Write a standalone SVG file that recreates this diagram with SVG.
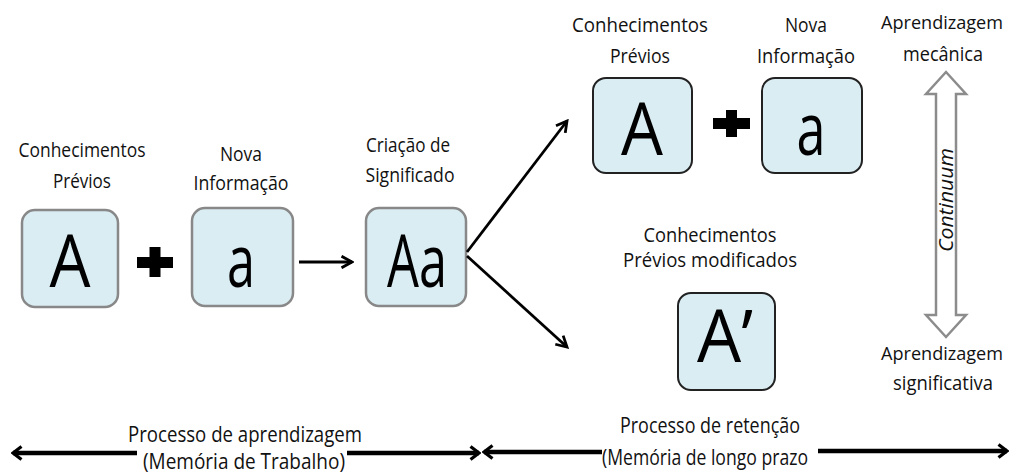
<svg xmlns="http://www.w3.org/2000/svg" width="1013" height="474" viewBox="0 0 1013 474">
<style>
.lbl{font-family:"Open Sans","Liberation Sans",sans-serif;font-size:20px;fill:#111;text-anchor:middle}
.sm{font-size:19px}
.big{font-family:"Open Sans","Liberation Sans",sans-serif;font-size:73px;fill:#000;text-anchor:middle}
.bot{font-family:"Open Sans","Liberation Sans",sans-serif;font-size:21px;fill:#111;text-anchor:middle}
.boxg{fill:#daedf3;stroke:#888;stroke-width:2.5}
.boxd{fill:#daedf3;stroke:#222;stroke-width:2}
.con{stroke:#000;stroke-width:2.8;fill:none}
.thick{stroke:#000;stroke-width:4.5;fill:none}
</style>
<defs>
<marker id="chev" viewBox="0 0 12 12" refX="10" refY="6" markerWidth="14" markerHeight="14" markerUnits="userSpaceOnUse" orient="auto">
<path d="M1,1 L10,6 L1,11" fill="none" stroke="#000" stroke-width="2.4"/>
</marker>
<marker id="chevB" viewBox="0 0 12 16" refX="10" refY="8" markerWidth="12" markerHeight="16" markerUnits="userSpaceOnUse" orient="auto">
<path d="M1.5,1.5 L10,8 L1.5,14.5" fill="none" stroke="#000" stroke-width="3.2"/>
</marker>
</defs>

<g id="node-A1">
<text class="lbl" x="82" y="157" textLength="127" lengthAdjust="spacingAndGlyphs">Conhecimentos</text>
<text class="lbl" x="82" y="188" textLength="58" lengthAdjust="spacingAndGlyphs">Prévios</text>
<rect class="boxg" x="22" y="210" width="96" height="97" rx="13"/>
<text class="big" x="70" y="287" textLength="41" lengthAdjust="spacingAndGlyphs">A</text>
</g>
<g id="plus1"><path d="M137,257 H149.5 V247 H160.5 V257 H173 V268 H160.5 V277 H149.5 V268 H137 Z" fill="#000"/></g>
<g id="node-a1">
<text class="lbl" x="241" y="161" textLength="42" lengthAdjust="spacingAndGlyphs">Nova</text>
<text class="lbl" x="241" y="190" textLength="95" lengthAdjust="spacingAndGlyphs">Informação</text>
<rect class="boxg" x="192" y="208" width="101" height="98" rx="13"/>
<text class="big" x="241" y="287" textLength="28" lengthAdjust="spacingAndGlyphs">a</text>
</g>
<g id="node-Aa">
<text class="lbl" x="408" y="152" textLength="84" lengthAdjust="spacingAndGlyphs">Criação de</text>
<text class="lbl" x="410" y="182" textLength="89" lengthAdjust="spacingAndGlyphs">Significado</text>
<rect class="boxg" x="366" y="208" width="100" height="98" rx="13"/>
<text class="big" x="417" y="287" textLength="60" lengthAdjust="spacingAndGlyphs">Aa</text>
</g>
<g id="node-A2">
<text class="lbl" x="640" y="32" textLength="136" lengthAdjust="spacingAndGlyphs">Conhecimentos</text>
<text class="lbl" x="640" y="63" textLength="60" lengthAdjust="spacingAndGlyphs">Prévios</text>
<rect class="boxd" x="593" y="78" width="99" height="95" rx="13"/>
<text class="big" x="642" y="155" textLength="42" lengthAdjust="spacingAndGlyphs">A</text>
</g>
<g id="plus2"><path d="M713,118 H726 V110 H737 V118 H750 V129 H737 V137 H726 V129 H713 Z" fill="#000"/></g>
<g id="node-a2">
<text class="lbl" x="806" y="32" textLength="42" lengthAdjust="spacingAndGlyphs">Nova</text>
<text class="lbl" x="806" y="63" textLength="98" lengthAdjust="spacingAndGlyphs">Informação</text>
<rect class="boxd" x="762" y="78" width="100" height="95" rx="13"/>
<text class="big" x="811" y="155" textLength="29" lengthAdjust="spacingAndGlyphs">a</text>
</g>
<g id="node-A3">
<text class="lbl" x="710" y="242" textLength="133" lengthAdjust="spacingAndGlyphs">Conhecimentos</text>
<text class="lbl" x="710" y="267" textLength="174" lengthAdjust="spacingAndGlyphs">Prévios modificados</text>
<rect class="boxd" x="678" y="293" width="97" height="97" rx="13"/>
<text class="big" x="725" y="362" textLength="56" lengthAdjust="spacingAndGlyphs">A’</text>
</g>
<g id="continuum">
<text class="lbl sm" x="942" y="29" textLength="122" lengthAdjust="spacingAndGlyphs">Aprendizagem</text>
<text class="lbl" x="943" y="61" textLength="80" lengthAdjust="spacingAndGlyphs">mecânica</text>
<polygon points="946,72 966,94 956,94 956,315 966,315 946,337 926,315 936,315 936,94 926,94" fill="#fff" stroke="#8c8c8c" stroke-width="2.5"/>
<text class="lbl" transform="translate(953,200) rotate(-90)" x="0" y="0" font-style="italic" textLength="104" lengthAdjust="spacingAndGlyphs">Continuum</text>
<text class="lbl sm" x="942" y="360" textLength="122" lengthAdjust="spacingAndGlyphs">Aprendizagem</text>
<text class="lbl" x="943" y="390" textLength="100" lengthAdjust="spacingAndGlyphs">significativa</text>
</g>
<g id="connectors">
<line class="con" x1="299" y1="262" x2="352" y2="262" marker-end="url(#chev)"/>
<line class="con" x1="467" y1="252" x2="567" y2="121" marker-end="url(#chev)"/>
<line class="con" x1="467" y1="256" x2="567" y2="347" marker-end="url(#chev)"/>
<line class="thick" x1="137" y1="453" x2="13" y2="453" marker-end="url(#chevB)"/>
<line class="thick" x1="347" y1="453" x2="479" y2="453" marker-end="url(#chevB)"/>
<line class="thick" x1="602" y1="452" x2="484" y2="452" marker-end="url(#chevB)"/>
<line class="thick" x1="818" y1="451" x2="1007" y2="451" marker-end="url(#chevB)"/>
</g>
<g id="bottom-labels">
<text class="bot" x="245" y="442" textLength="234" lengthAdjust="spacingAndGlyphs">Processo de aprendizagem</text>
<text class="bot" x="244" y="469" textLength="202" lengthAdjust="spacingAndGlyphs">(Memória de Trabalho)</text>
<text class="bot" x="710" y="433" textLength="180" lengthAdjust="spacingAndGlyphs">Processo de retenção</text>
<text class="bot" x="705" y="465" textLength="206" lengthAdjust="spacingAndGlyphs">(Memória de longo prazo</text>
</g>
</svg>
